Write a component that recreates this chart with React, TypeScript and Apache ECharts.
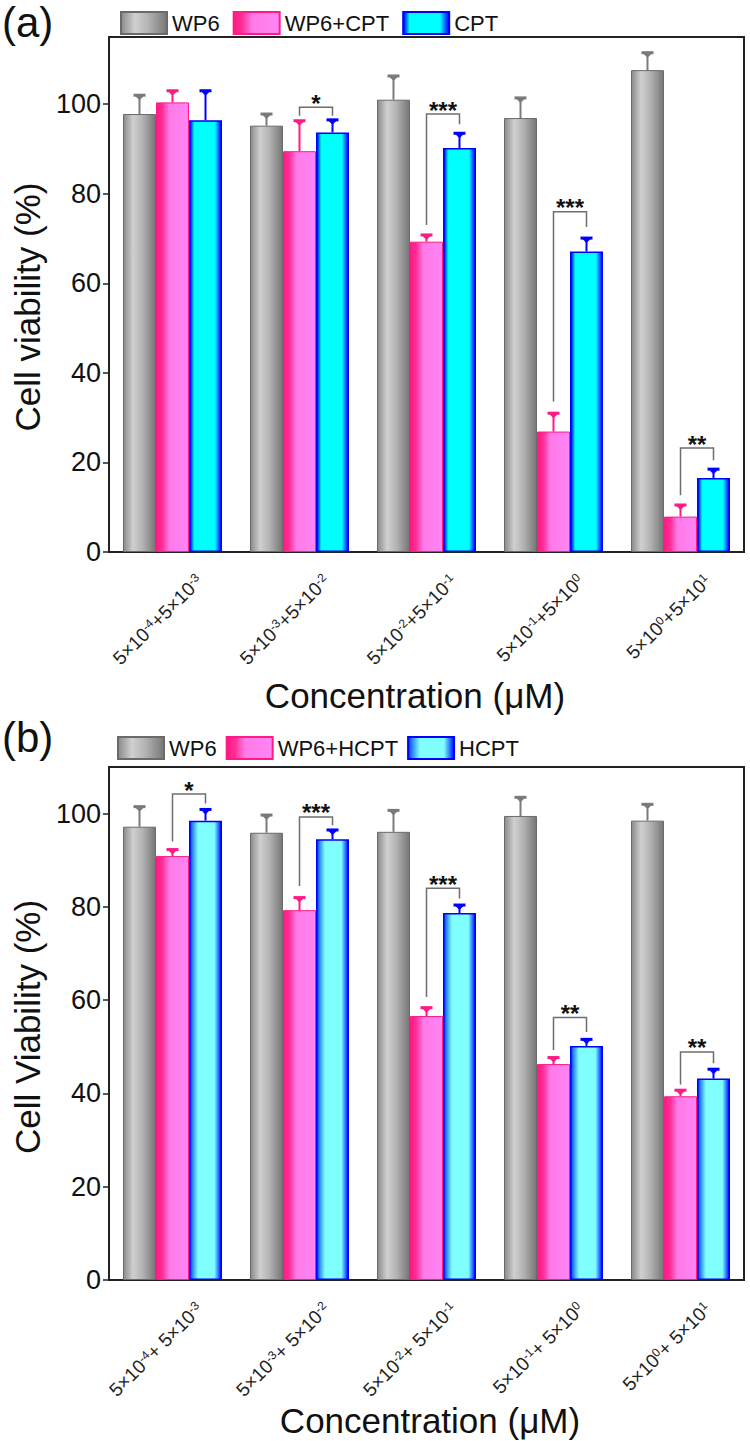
import React, { useEffect, useRef } from 'react';
import * as echarts from 'echarts';

const FONT = '"Liberation Sans", Arial, Helvetica, sans-serif';

// ---------- Data: panel (a) ----------
const categoriesA = ['5×10^-4+5×10^-3', '5×10^-3+5×10^-2', '5×10^-2+5×10^-1', '5×10^-1+5×10^0', '5×10^0+5×10^1'];
const seriesNamesA = ['WP6', 'WP6+CPT', 'CPT'];
const wp6A = [97.8, 95.2, 101.0, 96.9, 107.6];
const wp6AErr = [4.2, 2.6, 5.3, 4.5, 3.9];
const wp6CptA = [100.4, 89.5, 69.3, 26.9, 7.9];
const wp6CptAErr = [2.6, 6.8, 1.5, 4.1, 2.6];
const cptA = [96.4, 93.7, 90.2, 67.1, 16.5];
const cptAErr = [6.6, 2.8, 3.3, 3.0, 2.0];
const bracketCatA = [1, 2, 3, 4];
const bracketLeftA = [97.4, 73.0, 33.6, 12.7];
const bracketRightA = [97.4, 95.5, 72.6, 20.5];
const bracketTopA = [99.3, 97.8, 76.0, 23.2];
const bracketStarsA = [1, 3, 3, 2];
const yTicksA = [0, 20, 40, 60, 80, 100];
const yMaxA = 115;

// ---------- Data: panel (b) ----------
const categoriesB = ['5×10^-4+ 5×10^-3', '5×10^-3+ 5×10^-2', '5×10^-2+ 5×10^-1', '5×10^-1+ 5×10^0', '5×10^0+ 5×10^1'];
const seriesNamesB = ['WP6', 'WP6+HCPT', 'HCPT'];
const wp6B = [97.2, 95.9, 96.1, 99.5, 98.5];
const wp6BErr = [4.3, 3.8, 4.6, 4.0, 3.5];
const wp6HcptB = [90.9, 79.3, 56.6, 46.3, 39.4];
const wp6HcptBErr = [1.4, 2.7, 1.8, 1.4, 1.3];
const hcptB = [98.5, 94.5, 78.7, 50.2, 43.2];
const hcptBErr = [2.4, 2.0, 1.7, 1.4, 2.0];
const bracketCatB = [0, 1, 2, 3, 4];
const bracketLeftB = [94.0, 84.5, 60.7, 49.3, 41.9];
const bracketRightB = [102.2, 97.5, 81.8, 53.2, 46.5];
const bracketTopB = [104.2, 99.3, 84.0, 56.3, 48.9];
const bracketStarsB = [1, 3, 3, 2, 2];
const yTicksB = [0, 20, 40, 60, 80, 100];
const yMaxB = 110;

const titleYA = 'Cell viability (%)';
const titleYB = 'Cell Viability (%)';
const titleX = 'Concentration (μM)';

// ---------- styles ----------
const lg = (stops: [number, string][]) =>
  new echarts.graphic.LinearGradient(0, 0, 1, 0, stops.map(([offset, color]) => ({ offset, color })));

const greyFill = () => lg([[0, '#8a8a8a'], [0.3, '#d0d0d0'], [0.6, '#b2b2b2'], [1, '#767676']]);
const pinkFill = () => lg([[0, '#ff1a84'], [0.18, '#ff2d96'], [0.4, '#ff7ae8'], [1, '#ff85f5']]);
const cyanFill = () => lg([[0, '#0000ff'], [0.06, '#0060ff'], [0.14, '#00ffff'], [0.8, '#00ffff'], [0.92, '#0060ff'], [1, '#0000ff']]);
const lightCyanFill = () => lg([[0, '#0030ff'], [0.1, '#3090ff'], [0.26, '#80ffff'], [0.78, '#80ffff'], [0.9, '#3080ff'], [1, '#0000ff']]);

const borderColors = ['#6a6a6a', '#ff1a84', '#0000ff'];
const errColors = ['#7a7a7a', '#ff1a84', '#0000ff'];
const BAR_W = 33;

function toRich(label: string) {
  const parts = label.split(/\^(-?\d+)/);
  return parts
    .map((p, i) => (p === '' ? '' : i % 2 === 0 ? `{m|${p}}` : `{s|${p}}`))
    .join('');
}

function barSeries(names: string[], vals: number[][], fills: any[], axis: number) {
  return names.map((name, k) => ({
    type: 'bar',
    name,
    xAxisIndex: axis,
    yAxisIndex: axis,
    data: vals[k],
    barWidth: BAR_W,
    barGap: '0%',
    itemStyle: { color: fills[k], borderColor: borderColors[k], borderWidth: k === 2 ? 1.5 : 1 },
    z: 2,
  }));
}

function errSeries(vals: number[][], errs: number[][], axis: number) {
  const data: number[][] = [];
  vals.forEach((arr, k) => arr.forEach((v, i) => data.push([i, v, errs[k][i], k])));
  return {
    type: 'custom',
    xAxisIndex: axis,
    yAxisIndex: axis,
    clip: false,
    z: 5,
    silent: true,
    data,
    encode: { x: 0, y: 1 },
    renderItem: (_p: any, api: any) => {
      const cat = api.value(0);
      const v = api.value(1);
      const e = api.value(2);
      const k = api.value(3);
      const base = api.coord([cat, v]);
      const top = api.coord([cat, v + e]);
      const x = base[0] + (k - 1) * BAR_W;
      const c = errColors[k];
      return {
        type: 'group',
        children: [
          { type: 'line', shape: { x1: x, y1: base[1], x2: x, y2: top[1] }, style: { stroke: c, lineWidth: 2 } },
          { type: 'line', shape: { x1: x - 6, y1: top[1], x2: x + 6, y2: top[1] }, style: { stroke: c, lineWidth: 3 } },
          { type: 'polygon', shape: { points: [[x - 5, top[1]], [x + 5, top[1]], [x, top[1] + 5]] }, style: { fill: c } },
        ],
      };
    },
  };
}

function bracketSeries(cats: number[], left: number[], right: number[], top: number[], stars: number[], axis: number) {
  return {
    type: 'custom',
    xAxisIndex: axis,
    yAxisIndex: axis,
    clip: false,
    z: 6,
    silent: true,
    data: cats.map((c, i) => [c, left[i], right[i], top[i], stars[i]]),
    encode: { x: 0, y: 3 },
    renderItem: (_p: any, api: any) => {
      const cat = api.value(0);
      const pl = api.coord([cat, api.value(1)]);
      const pr = api.coord([cat, api.value(2)]);
      const pt = api.coord([cat, api.value(3)]);
      const xl = pl[0];
      const xr = pl[0] + BAR_W;
      return {
        type: 'group',
        children: [
          {
            type: 'polyline',
            shape: { points: [[xl, pl[1]], [xl, pt[1]], [xr, pt[1]], [xr, pr[1]]] },
            style: { stroke: '#6e6e6e', lineWidth: 1.5, fill: null },
          },
          {
            type: 'text',
            x: (xl + xr) / 2,
            y: pt[1] - 4,
            style: {
              text: '*'.repeat(api.value(4)),
              fontSize: 24,
              fontWeight: 'bold',
              fontFamily: FONT,
              fill: '#111',
              align: 'center',
              verticalAlign: 'middle',
            },
          },
        ],
      };
    },
  };
}

function labelSeries(cats: string[], axis: number) {
  return {
    type: 'custom',
    xAxisIndex: axis,
    yAxisIndex: axis,
    clip: false,
    z: 6,
    silent: true,
    data: cats.map((_c, i) => [i, 0]),
    renderItem: (p: any, api: any) => {
      const pt = api.coord([api.value(0), 0]);
      return {
        type: 'text',
        x: pt[0] + 27,
        y: pt[1] + 26,
        rotation: Math.PI / 4,
        style: {
          text: toRich(cats[p.dataIndex]),
          align: 'right',
          verticalAlign: 'middle',
          fill: '#222',
          fontFamily: FONT,
          rich: {
            m: { fontSize: 19, fontFamily: FONT, fill: '#222' },
            s: { fontSize: 12, fontFamily: FONT, fill: '#222', verticalAlign: 'top' },
          },
        },
      };
    },
  };
}

function yAxis(max: number, ticks: number[], grid: number) {
  return {
    type: 'value',
    gridIndex: grid,
    min: 0,
    max,
    interval: 20,
    splitLine: { show: false },
    axisLine: { show: true, lineStyle: { color: '#222', width: 2 } },
    axisTick: { show: true, inside: false, length: 6, lineStyle: { color: '#222', width: 1.5 }, customValues: ticks },
    axisLabel: {
      show: true,
      margin: 8,
      fontSize: 27,
      fontFamily: FONT,
      color: '#111',
      customValues: ticks,
      formatter: (v: number) => (v % 20 === 0 && v <= 100 ? String(v) : ''),
    },
  };
}

function xAxis(cats: string[], grid: number) {
  return {
    type: 'category',
    gridIndex: grid,
    data: cats,
    axisLine: { show: true, lineStyle: { color: '#222', width: 2 } },
    axisTick: { show: false },
    axisLabel: { show: false },
    splitLine: { show: false },
  };
}

const legendCommon = {
  orient: 'horizontal',
  icon: 'rect',
  itemWidth: 46,
  itemHeight: 22,
  selectedMode: false,
  textStyle: { fontSize: 22, fontFamily: FONT, color: '#111' },
};

function textEl(text: string, x: number, y: number, size: number, rot = 0, align = 'center') {
  return {
    type: 'text',
    x,
    y,
    rotation: rot,
    style: { text, fontSize: size, fontFamily: FONT, fill: '#111', align, verticalAlign: 'middle' },
  };
}

export default function App() {
  const ref = useRef<HTMLDivElement>(null);
  useEffect(() => {
    document.body.style.margin = '0';
    const chart = echarts.init(ref.current!, undefined, { renderer: 'svg' });
    const option: any = {
      animation: false,
      backgroundColor: '#ffffff',
      grid: [
        { left: 109, top: 37, width: 635, height: 515, show: true, borderColor: '#222', borderWidth: 2, backgroundColor: 'transparent' },
        { left: 109, top: 767, width: 635, height: 513, show: true, borderColor: '#222', borderWidth: 2, backgroundColor: 'transparent' },
      ],
      xAxis: [xAxis(categoriesA, 0), xAxis(categoriesB, 1)],
      yAxis: [yAxis(yMaxA, yTicksA, 0), yAxis(yMaxB, yTicksB, 1)],
      legend: [
        { ...legendCommon, data: seriesNamesA, left: 115, top: 6, itemGap: 13 },
        { ...legendCommon, data: seriesNamesB, left: 112, top: 731, itemGap: 9 },
      ],
      series: [
        ...barSeries(seriesNamesA, [wp6A, wp6CptA, cptA], [greyFill(), pinkFill(), cyanFill()], 0),
        ...barSeries(seriesNamesB, [wp6B, wp6HcptB, hcptB], [greyFill(), pinkFill(), lightCyanFill()], 1),
        errSeries([wp6A, wp6CptA, cptA], [wp6AErr, wp6CptAErr, cptAErr], 0),
        errSeries([wp6B, wp6HcptB, hcptB], [wp6BErr, wp6HcptBErr, hcptBErr], 1),
        bracketSeries(bracketCatA, bracketLeftA, bracketRightA, bracketTopA, bracketStarsA, 0),
        bracketSeries(bracketCatB, bracketLeftB, bracketRightB, bracketTopB, bracketStarsB, 1),
        labelSeries(categoriesA, 0),
        labelSeries(categoriesB, 1),
      ],
      graphic: [
        textEl('(a)', 2, 22, 42, 0, 'left'),
        textEl('(b)', 2, 737, 42, 0, 'left'),
        textEl(titleYA, 27, 307, 35, Math.PI / 2),
        textEl(titleYB, 27, 1027, 35, Math.PI / 2),
        textEl(titleX, 415, 695, 35),
        textEl(titleX, 430, 1420, 35),
      ],
    };
    chart.setOption(option);
    return () => chart.dispose();
  }, []);
  return <div ref={ref} style={{ width: 750, height: 1441 }} />;
}
